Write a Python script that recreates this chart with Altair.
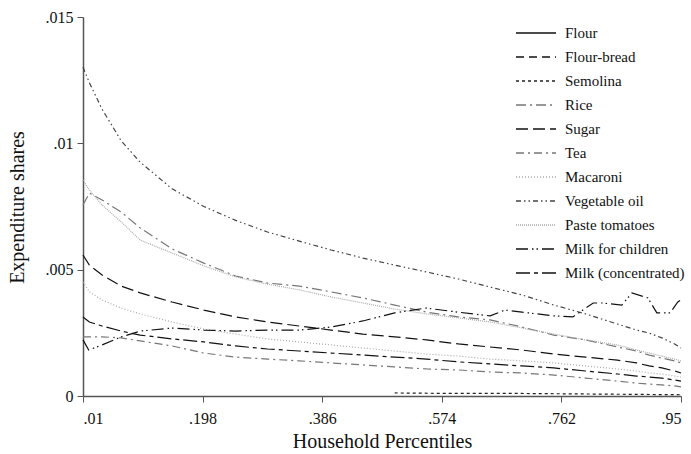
import altair as alt
import pandas as pd

series_names = ["Flour", "Flour-bread", "Semolina", "Rice", "Sugar", "Tea", "Macaroni",
                "Vegetable oil", "Paste tomatoes", "Milk for children", "Milk (concentrated)"]

grid = [0.01, 0.02, 0.04, 0.07, 0.10, 0.15, 0.20, 0.25, 0.30, 0.35, 0.40, 0.45, 0.50,
        0.55, 0.60, 0.65, 0.70, 0.75, 0.80, 0.85, 0.88, 0.90, 0.92, 0.94, 0.95]

vegetable_oil = [.01302, .01240, .01135, .01010, .00925, .00820, .00750, .00695, .00649,
                 .00613, .00578, .00546, .00518, .00491, .00463, .00431, .00400, .00360,
                 .00325, .00285, .00261, .00249, .00230, .00206, .00190]
rice = [.00756, .00803, .00776, .00728, .00665, .00582, .00526, .00475, .00447, .00435,
        .00412, .00388, .00360, .00332, .00313, .00301, .00273, .00241, .00222, .00194,
        .00178, .00162, .00150, .00139, .00131]
paste_tomatoes = [.00855, .00815, .00756, .00689, .00617, .00566, .00515, .00471, .00443,
                  .00420, .00392, .00368, .00344, .00325, .00309, .00293, .00269, .00245,
                  .00222, .00202, .00182, .00170, .00158, .00146, .00139]
sugar = [.00558, .00518, .00479, .00435, .00408, .00372, .00340, .00313, .00293, .00277,
         .00261, .00245, .00234, .00222, .00206, .00194, .00182, .00166, .00154, .00142,
         .00131, .00119, .00111, .00099, .00091]
macaroni = [.00451, .00412, .00380, .00348, .00325, .00293, .00265, .00245, .00226, .00214,
            .00202, .00190, .00178, .00166, .00158, .00146, .00139, .00131, .00119, .00107,
            .00099, .00091, .00087, .00079, .00075]
milk_concentrated = [.00313, .00293, .00277, .00257, .00241, .00226, .00214, .00198, .00186,
                     .00178, .00170, .00162, .00154, .00146, .00135, .00127, .00119, .00111,
                     .00099, .00087, .00079, .00075, .00071, .00063, .00059]
tea = [.00234, .00234, .00234, .00230, .00218, .00198, .00170, .00154, .00146, .00139,
       .00131, .00123, .00115, .00107, .00103, .00095, .00091, .00083, .00071, .00059,
       .00051, .00047, .00044, .00040, .00036]

milk_children_x = [0.01, 0.019, 0.04, 0.07, 0.10, 0.15, 0.20, 0.25, 0.30, 0.35, 0.40, 0.45,
                   0.50, 0.549, 0.599, 0.65, 0.673, 0.70, 0.75, 0.78, 0.812, 0.827, 0.857,
                   0.873, 0.898, 0.912, 0.933, 0.945, 0.95]
milk_children = [.00222, .00182, .00202, .00234, .00257, .00269, .00261, .00257, .00261,
                 .00261, .00273, .00297, .00329, .00348, .00332, .00317, .00340, .00332,
                 .00317, .00313, .00368, .00368, .00360, .00408, .00388, .00329, .00329,
                 .00372, .00380]

semolina_x = [0.50, 0.60, 0.70, 0.80, 0.90, 0.95]
semolina = [.00012, .00010, .00010, .00008, .00006, .00005]

colors = ["#111111", "#111111", "#222222", "#777777", "#111111", "#777777", "#aaaaaa",
          "#444444", "#aaaaaa", "#111111", "#111111"]
dashes = [[1, 0], [8, 5], [3, 3], [10, 4, 2, 4], [12, 5], [8, 4, 2, 4], [1, 2],
          [5, 3, 1.5, 3, 1.5, 3], [1, 1], [12, 4, 1.5, 3, 1.5, 4], [14, 4, 4, 4]]

rows = []
def add(name, xs, ys):
    for x, y in zip(xs, ys):
        rows.append({"series": name, "p": x, "share": y})

add("Semolina", semolina_x, semolina)
add("Rice", grid, rice)
add("Sugar", grid, sugar)
add("Tea", grid, tea)
add("Macaroni", grid, macaroni)
add("Vegetable oil", grid, vegetable_oil)
add("Paste tomatoes", grid, paste_tomatoes)
add("Milk for children", milk_children_x, milk_children)
add("Milk (concentrated)", grid, milk_concentrated)
df = pd.DataFrame(rows)

FONT = "Liberation Serif"
lab = "datum.value == 0 ? '0' : substring(format(datum.value, '~r'), 1)"

chart = alt.Chart(df).mark_line(strokeWidth=1.2).encode(
    x=alt.X("p:Q", scale=alt.Scale(domain=[0.01, 0.95], nice=False, zero=False),
            axis=alt.Axis(values=[0.01, 0.198, 0.386, 0.574, 0.762, 0.95], labelExpr=lab,
                          title="Household Percentiles", grid=False,
                          titleY=45, titleBaseline="middle", labelPadding=8)),
    y=alt.Y("share:Q", scale=alt.Scale(domain=[0, 0.015], nice=False),
            axis=alt.Axis(values=[0, 0.005, 0.01, 0.015], labelExpr=lab,
                          title="Expenditure shares", grid=False, labelPadding=4,
                          titleX=-66, titleY=190, titleBaseline="middle")),
    color=alt.Color("series:N", scale=alt.Scale(domain=series_names, range=colors),
                    sort=series_names, legend=alt.Legend(title=None)),
    strokeDash=alt.StrokeDash("series:N", scale=alt.Scale(domain=series_names, range=dashes),
                              sort=series_names, legend=alt.Legend(title=None)),
    detail="series:N",
).properties(
    width=598, height=379,
    autosize=alt.AutoSizeParams(type="none"),
    padding={"left": 83, "top": 17, "right": 10, "bottom": 58},
).configure_view(stroke=None).configure_axis(
    domainColor="#555555", tickColor="#555555", tickSize=6, domainWidth=1.5,
    labelFont=FONT, labelFontSize=16, labelColor="#111111",
    titleFont=FONT, titleFontSize=20, titleFontWeight="normal", titleColor="#111111",
).configure_legend(
    orient="none", legendX=432, legendY=7, symbolType="stroke", symbolSize=1600,
    symbolStrokeWidth=1.3, labelFont=FONT, labelFontSize=15, labelColor="#111111",
    clipHeight=18, rowPadding=6, labelOffset=8,
)

chart.save("out.html", embed_options={"renderer": "svg", "actions": False})
